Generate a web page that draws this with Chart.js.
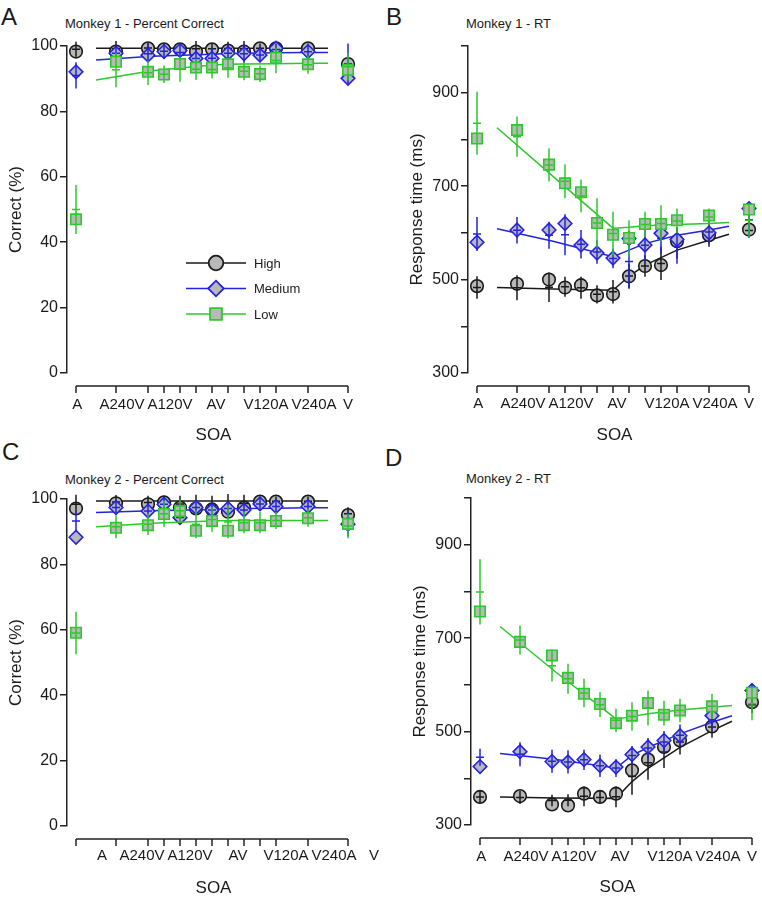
<!DOCTYPE html>
<html lang="en">
<head>
<meta charset="UTF-8">
<title>Percent correct and RT by SOA</title>
<script src="https://cdn.jsdelivr.net/npm/chart.js"></script>
<style>
    body {
        margin: 0;
        width: 762px;
        height: 900px;
        overflow: hidden;
        position: relative;
        background: #fff;
        font-family: 'Liberation Sans', Arial, sans-serif;
        color: #1a1a1a;
    }
    canvas { position: absolute; }
    .letter { position: absolute; font-size: 24px; line-height: 24px; }
    .ptitle { position: absolute; font-size: 13px; line-height: 16px; white-space: nowrap; }
</style>
</head>
<body>
    <div class="letter" style="left:1px; top:5px;">A</div>
    <div class="letter" style="left:386px; top:5px;">B</div>
    <div class="letter" style="left:2px; top:440px;">C</div>
    <div class="letter" style="left:385px; top:446px;">D</div>

    <div class="ptitle" style="left:65px; top:16px;">Monkey 1 - Percent Correct</div>
    <div class="ptitle" style="left:466px; top:16px;">Monkey 1 - RT</div>
    <div class="ptitle" style="left:65px; top:472px;">Monkey 2 - Percent Correct</div>
    <div class="ptitle" style="left:466px; top:471px;">Monkey 2 - RT</div>

    <canvas id="chartA" width="420" height="450" style="left:0; top:0;"></canvas>
    <canvas id="chartC" width="420" height="450" style="left:0; top:453px;"></canvas>
    <canvas id="chartB" width="420" height="450" style="left:401px; top:0;"></canvas>
    <canvas id="chartD" width="420" height="450" style="left:404px; top:452px;"></canvas>

<script>
// SOA positions (ms); A-only and V-only conditions sit at the ends
const xPos = [-340, -240, -160, -120, -80, -40, 0, 40, 80, 120, 160, 240, 340];
const soaLabels = ['A', 'A240V', 'A120V', 'AV', 'V120A', 'V240A', 'V'];
const labelPos = [-337, -225, -105, 10, 135, 255, 340];
const labelPosShifted = [-340, -240, -120, 0, 120, 240, 340];
const fitX = [-290, -150, 0, 40, 80, 160, 240, 290];

const pctTicks = [0, 20, 40, 60, 80, 100];
const pctLabels = [0, 20, 40, 60, 80, 100];
const rtTicks = [300, 400, 500, 600, 700, 800, 900, 1000];
const rtLabels = [300, 500, 700, 900];

// Monkey 1 - percent correct
const hiA = [98.3, 98.3, 99.3, 99, 99, 98.3, 99, 98.6, 98.3, 99.3, 99.3, 99.3, 94.5];
const hiA_lo = [96.7, 96.8, 97.8, 97.5, 97.5, 96.8, 97.5, 97.1, 96.8, 97.8, 97.8, 97.8, 92.5];
const hiA_hi = [101.3, 101.5, 101, 100.8, 100.8, 101.5, 100.8, 101.3, 101.5, 100.8, 100.8, 100.8, 96.5];
const meA = [92.1, 97.8, 97.2, 98.3, 98.6, 96.2, 96.2, 97.8, 97.6, 97.2, 99.3, 98.3, 90.1];
const meA_lo = [87, 95.5, 94.8, 96, 95.5, 93.5, 93, 95, 94.8, 95, 97, 96.5, 88];
const meA_hi = [95, 100, 100.5, 100.8, 100.5, 98.8, 99.5, 100.5, 100.5, 99.5, 100.8, 100, 100.8];
const loA = [47, 95.2, 92.1, 91.3, 94.5, 93.4, 93.4, 94.4, 92.1, 91.4, 96.4, 94.4, 92.7];
const loA_lo = [42.5, 87.4, 88.1, 88.7, 89.1, 89.6, 90.1, 90.3, 89.5, 89, 91.7, 91.5, 89.5];
const loA_hi = [57.5, 98, 95.5, 94, 96.8, 96.2, 95.5, 96.2, 95, 94, 99.5, 97, 97.8];
const hiFitA = [99.3, 99.3, 99.3, 99.3, 99.3, 99.3, 99.3, 99.3];
const meFitA = [95.7, 96.9, 97.5, 97.7, 97.8, 97.9, 98.0, 98.0];
const loFitA = [89.6, 92.4, 94.2, 94.4, 94.5, 94.6, 94.7, 94.7];

// Monkey 1 - RT
const hiB = [486, 491, 500, 483, 488, 466, 469, 507, 529, 531, 582, 595, 607];
const hiB_lo = [459, 456, 452, 463, 459, 449, 449, 481, 506, 499, 545, 570, 590];
const hiB_hi = [507, 509, 515, 506, 506, 488, 499, 534, 552, 570, 612, 634, 620];
const meB = [580, 606, 606, 620, 574, 557, 546, 588, 574, 599, 586, 600, 652];
const meB_lo = [561, 577, 566, 552, 545, 534, 524, 481, 541, 556, 534, 577, 590];
const meB_hi = [634, 634, 624, 640, 606, 584, 566, 596, 606, 620, 609, 627, 666];
const loB = [802, 820, 746, 706, 687, 621, 596, 589, 619, 619, 627, 637, 650];
const loB_lo = [767, 763, 710, 674, 644, 568, 552, 549, 591, 581, 599, 616, 591];
const loB_hi = [902, 849, 781, 747, 714, 674, 645, 627, 645, 659, 652, 652, 663];
const hiFitB = [483, 480, 477, 507, 531, 563, 584, 597];
const meFitB = [609, 582, 549, 563, 577, 595, 606, 614];
const loFitB = [825, 721, 610, 612, 615, 618, 620, 622];

// Monkey 2 - percent correct
const hiC = [97.1, 98.7, 98.4, 99, 97.4, 97.1, 96.8, 96.1, 97.4, 99.2, 99.2, 99.2, 95.1];
const hiC_lo = [95.5, 97, 96.8, 97.5, 96, 95.5, 95, 94.5, 96, 97.8, 97.8, 97.8, 93.5];
const hiC_hi = [101.3, 101.2, 101, 101, 101, 101.3, 101, 101.5, 101.3, 100.8, 100.8, 100.8, 97.5];
const meC = [88.3, 97.4, 96.3, 98.4, 94.3, 97.4, 96.6, 97.1, 96.6, 98.5, 97.7, 97.7, 92.3];
const meC_lo = [90.5, 95.5, 94.5, 96.5, 92.5, 95.5, 94.8, 95.2, 94.8, 96.8, 96, 96, 88.5];
const meC_hi = [96, 99.3, 98.2, 100.3, 96.2, 99.3, 98.4, 99, 98.4, 100.2, 99.4, 99.4, 96];
const loC = [59.1, 91.2, 92, 95.4, 96.3, 90.3, 93.3, 90.3, 92, 92, 93.3, 94.1, 92.4];
const loC_lo = [52.5, 88, 89, 91.5, 93, 88, 90, 88, 89.5, 89.5, 90.8, 91.5, 88];
const loC_hi = [65.5, 95, 95.5, 99.5, 99.8, 96.5, 97.5, 98, 96, 96, 96, 97, 95.5];
const hiFitC = [99.4, 99.4, 99.4, 99.4, 99.4, 99.4, 99.4, 99.4];
const meFitC = [95.9, 96.4, 96.8, 97.0, 97.1, 97.2, 97.3, 97.3];
const loFitC = [91.5, 92.6, 93.3, 93.4, 93.4, 93.4, 93.4, 93.4];

// Monkey 2 - RT
const hiD = [360, 362, 344, 342, 367, 360, 367, 417, 440, 467, 481, 511, 563];
const hiD_lo = [345, 345, 340, 340, 340, 345, 338, 365, 397, 422, 451, 487, 540];
const hiD_hi = [375, 373, 365, 366, 383, 373, 383, 443, 469, 491, 504, 533, 575];
const meD = [425, 457, 436, 435, 440, 427, 424, 451, 467, 481, 491, 534, 588];
const meD_lo = [427, 426, 412, 410, 418, 403, 403, 429, 444, 454, 469, 504, 575];
const meD_hi = [463, 477, 461, 460, 461, 451, 441, 469, 486, 501, 515, 547, 600];
const loD = [757, 692, 663, 615, 581, 559, 518, 534, 561, 536, 545, 554, 583];
const loD_lo = [729, 665, 607, 581, 552, 531, 499, 502, 513, 513, 520, 527, 524];
const loD_hi = [869, 727, 675, 645, 613, 584, 549, 563, 588, 566, 570, 581, 595];
const hiFitD = [360, 358, 357, 393, 421, 466, 502, 522];
const meFitD = [453, 440, 422, 449, 466, 495, 520, 534];
const loFitD = [725, 627, 527, 532, 538, 546, 552, 556];

const BLACK = '#1a1a1a';
const BLUE = '#2323e0';
const GREEN = '#2cc82c';
const FILL = '#b8b8b8';
const AXIS = '#222';
const TXT = '#1a1a1a';

Chart.defaults.font.family = "'Liberation Sans', Arial, sans-serif";
Chart.defaults.color = TXT;

// vertical error bars with a short cross mark, drawn right after each marker set
const errorBars = {
    id: 'errorBars',
    afterDatasetDraw(chart, args) {
        const ds = chart.data.datasets[args.index];
        if (!ds.errLo) return;
        const ctx = chart.ctx;
        const xs = chart.scales.x, ys = chart.scales.y;
        ctx.save();
        ctx.strokeStyle = ds.borderColor;
        ctx.lineWidth = 1.5;
        ds.data.forEach((p, i) => {
            const px = xs.getPixelForValue(p.x);
            const y1 = ys.getPixelForValue(ds.errLo[i]);
            const y2 = ys.getPixelForValue(ds.errHi[i]);
            const ym = (y1 + y2) / 2;
            ctx.beginPath();
            ctx.moveTo(px, y1);
            ctx.lineTo(px, y2);
            ctx.moveTo(px - 4, ym);
            ctx.lineTo(px + 4, ym);
            ctx.stroke();
        });
        ctx.restore();
    }
};

// detached x axis below the plot, from the A tick to the V tick
const xAxisLine = {
    id: 'xAxisLine',
    afterDraw(chart) {
        const ctx = chart.ctx;
        const xs = chart.scales.x;
        const yy = chart.chartArea.bottom + 13;
        ctx.save();
        ctx.strokeStyle = AXIS;
        ctx.lineWidth = 1.5;
        ctx.beginPath();
        ctx.moveTo(xs.getPixelForValue(xPos[0]), yy);
        ctx.lineTo(xs.getPixelForValue(xPos[xPos.length - 1]), yy);
        xPos.forEach(v => {
            const px = xs.getPixelForValue(v);
            ctx.moveTo(px, yy);
            ctx.lineTo(px, yy + 7);
        });
        ctx.stroke();
        ctx.restore();
    }
};

// small legend inside panel A
const insideLegend = {
    id: 'insideLegend',
    afterDraw(chart, args, opts) {
        if (!opts.show) return;
        const ctx = chart.ctx;
        const ca = chart.chartArea;
        const rows = ['High', 'Medium', 'Low'].map(n => chart.data.datasets.find(d => d.label === n));
        ctx.save();
        rows.forEach((ds, k) => {
            const y = ca.top + opts.top + k * 25.5;
            const x0 = ca.left + opts.left;
            ctx.strokeStyle = ds.borderColor;
            ctx.lineWidth = 1.5;
            ctx.beginPath();
            ctx.moveTo(x0, y);
            ctx.lineTo(x0 + 60, y);
            ctx.stroke();
            ctx.fillStyle = FILL;
            ctx.lineWidth = 1.8;
            Chart.helpers.drawPoint(ctx, {
                pointStyle: ds.pointStyle, radius: ds.pointRadius + 1, rotation: 0, borderWidth: 1.8
            }, x0 + 30, y);
            ctx.fillStyle = TXT;
            ctx.font = "13px 'Liberation Sans', Arial, sans-serif";
            ctx.textBaseline = 'middle';
            ctx.fillText(ds.label, x0 + 68, y + 1);
        });
        ctx.restore();
    }
};

function makePanel(id, o) {
    const series = [
        { name: 'Low', col: GREEN, style: 'rect', r: 7.4, val: o.lo, eLo: o.loLo, eHi: o.loHi, fit: o.loFit },
        { name: 'Medium', col: BLUE, style: 'rectRot', r: 6.8, val: o.me, eLo: o.meLo, eHi: o.meHi, fit: o.meFit },
        { name: 'High', col: BLACK, style: 'circle', r: 6.3, val: o.hi, eLo: o.hiLo, eHi: o.hiHi, fit: o.hiFit }
    ];
    const datasets = [];
    series.forEach((s, k) => {
        datasets.push({
            type: 'scatter',
            label: s.name,
            data: xPos.map((x, i) => ({ x: x, y: s.val[i] })),
            pointStyle: s.style,
            pointRadius: s.r,
            backgroundColor: FILL,
            borderColor: s.col,
            borderWidth: 1.6,
            showLine: false,
            errLo: s.eLo,
            errHi: s.eHi,
            order: 2 * k,
            clip: false
        });
        datasets.push({
            type: 'line',
            data: fitX.map((x, i) => ({ x: x, y: s.fit[i] })),
            borderColor: s.col,
            borderWidth: 1.5,
            pointRadius: 0,
            fill: false,
            tension: 0,
            order: 2 * k + 1,
            clip: false
        });
    });

    return new Chart(document.getElementById(id), {
        data: { datasets: datasets },
        plugins: [errorBars, xAxisLine, insideLegend],
        options: {
            responsive: false,
            animation: false,
            devicePixelRatio: 1,
            layout: { padding: { top: 46, right: 60, left: 0, bottom: 0 } },
            plugins: {
                legend: { display: false },
                tooltip: { enabled: false },
                insideLegend: { show: !!o.legend, left: 119, top: 217 }
            },
            scales: {
                x: {
                    type: 'linear',
                    min: -362.5,
                    max: 370,
                    afterBuildTicks: s => { s.ticks = o.xLabelPos.map(v => ({ value: v })); },
                    afterFit: s => { s.height = 77; },
                    ticks: {
                        autoSkip: false, maxRotation: 0, minRotation: 0,
                        font: { size: 15 }, color: TXT,
                        padding: o.xPad, labelOffset: o.xOffset,
                        callback: (v, i) => soaLabels[i]
                    },
                    grid: { display: false, drawTicks: false },
                    border: { display: false },
                    title: { display: true, text: 'SOA', font: { size: 17 }, color: TXT, padding: { top: 0, bottom: 4 } }
                },
                y: {
                    type: 'linear',
                    min: o.yMin,
                    max: o.yMax,
                    afterBuildTicks: s => { s.ticks = o.yTicks.map(v => ({ value: v })); },
                    afterFit: s => { s.width = 67; },
                    ticks: {
                        font: { size: 16 }, color: TXT, padding: 2,
                        callback: v => o.yLabels.includes(v) ? String(v) : ''
                    },
                    grid: { display: true, drawOnChartArea: false, drawTicks: true, tickLength: 7, color: AXIS, lineWidth: 1.5 },
                    border: { display: true, color: AXIS, width: 1.5 },
                    title: { display: true, text: o.yTitle, font: { size: 17 }, color: TXT, padding: { top: 6, bottom: 0 } }
                }
            }
        }
    });
}

makePanel('chartA', {
    hi: hiA, hiLo: hiA_lo, hiHi: hiA_hi, hiFit: hiFitA,
    me: meA, meLo: meA_lo, meHi: meA_hi, meFit: meFitA,
    lo: loA, loLo: loA_lo, loHi: loA_hi, loFit: loFitA,
    yMin: 0, yMax: 100, yTicks: pctTicks, yLabels: pctLabels, yTitle: 'Correct (%)',
    xLabelPos: labelPos, xPad: 23, xOffset: 0, legend: true
});
makePanel('chartB', {
    hi: hiB, hiLo: hiB_lo, hiHi: hiB_hi, hiFit: hiFitB,
    me: meB, meLo: meB_lo, meHi: meB_hi, meFit: meFitB,
    lo: loB, loLo: loB_lo, loHi: loB_hi, loFit: loFitB,
    yMin: 300, yMax: 1000, yTicks: rtTicks, yLabels: rtLabels, yTitle: 'Response time (ms)',
    xLabelPos: labelPos, xPad: 22, xOffset: 0
});
makePanel('chartC', {
    hi: hiC, hiLo: hiC_lo, hiHi: hiC_hi, hiFit: hiFitC,
    me: meC, meLo: meC_lo, meHi: meC_hi, meFit: meFitC,
    lo: loC, loLo: loC_lo, loHi: loC_hi, loFit: loFitC,
    yMin: 0, yMax: 100, yTicks: pctTicks, yLabels: pctLabels, yTitle: 'Correct (%)',
    xLabelPos: labelPosShifted, xPad: 21, xOffset: 26
});
makePanel('chartD', {
    hi: hiD, hiLo: hiD_lo, hiHi: hiD_hi, hiFit: hiFitD,
    me: meD, meLo: meD_lo, meHi: meD_hi, meFit: meFitD,
    lo: loD, loLo: loD_lo, loHi: loD_hi, loFit: loFitD,
    yMin: 300, yMax: 1000, yTicks: rtTicks, yLabels: rtLabels, yTitle: 'Response time (ms)',
    xLabelPos: labelPos, xPad: 23, xOffset: 0
});
</script>
</body>
</html>
